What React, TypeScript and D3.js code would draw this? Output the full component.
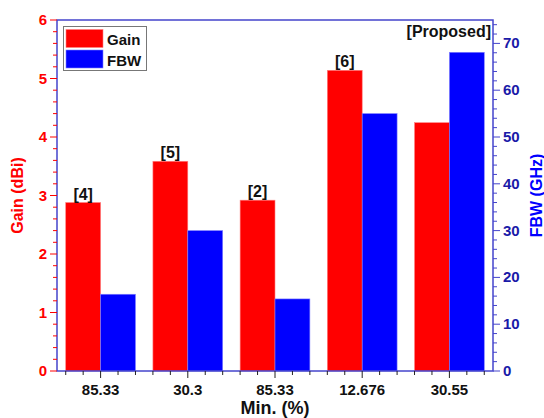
import React from "react";
import * as d3 from "d3";

const categories = ["85.33", "30.3", "85.33", "12.676", "30.55"];
const refs = ["[4]", "[5]", "[2]", "[6]", ""];
const gainValues = [2.88, 3.585, 2.92, 5.14, 4.245];
const fbwValues = [16.4, 30.0, 15.4, 55.0, 68.1];
const gainTicks = [0, 1, 2, 3, 4, 5, 6];
const fbwTicks = [0, 10, 20, 30, 40, 50, 60, 70];

const W = 544;
const H = 418;
const m = { left: 57, right: 51, top: 20, bottom: 47 };
const FONT = "'Liberation Sans', Arial, sans-serif";
const RED = "#ff0000";
const BLUE = "#0000ff";
const FRAME = "#4444cc";

export default function App() {
  const x0 = m.left;
  const x1 = W - m.right;
  const y0 = H - m.bottom;
  const y1 = m.top;

  const x = d3.scaleLinear().domain([-0.5, categories.length - 0.5]).range([x0, x1]);
  const yGain = d3.scaleLinear().domain([0, 6]).range([y0, y1]);
  const yFbw = d3.scaleLinear().domain([0, 75]).range([y0, y1]);
  const bw = (x(1) - x(0)) * 0.4;

  const gainMinor = d3.range(0, 6.0001, 0.2);
  const fbwMinor = d3.range(0, 75.0001, 2);
  const xMinor = d3.range(-0.4, categories.length - 0.5, 0.2);

  return (
    <svg width={W} height={H} style={{ position: "absolute", left: 0, top: 0 }} fontFamily={FONT}>
      <rect width={W} height={H} fill="#fff" />

      {/* bars */}
      {categories.map((_, i) => (
        <g key={i}>
          <rect x={x(i) - bw} y={yGain(gainValues[i])} width={bw} height={y0 - yGain(gainValues[i])}
            fill={RED} stroke="#ff8080" strokeWidth={0.6} />
          <rect x={x(i)} y={yFbw(fbwValues[i])} width={bw} height={y0 - yFbw(fbwValues[i])}
            fill={BLUE} stroke="#8080ff" strokeWidth={0.6} />
          {refs[i] && (
            <text x={x(i) - bw / 2} y={yGain(gainValues[i]) - 3} textAnchor="middle"
              fontSize={16} fontWeight="bold" fill="#111">{refs[i]}</text>
          )}
        </g>
      ))}
      <text x={x1 - 2} y={37} textAnchor="end" fontSize={16} fontWeight="bold" fill="#111">[Proposed]</text>

      {/* frame */}
      <rect x={x0} y={y1} width={x1 - x0} height={y0 - y1} fill="none" stroke={FRAME} strokeWidth={1.5} />

      {/* left axis (Gain) */}
      {gainMinor.map((v, i) => {
        const major = Math.abs(v - Math.round(v)) < 1e-6;
        return (
          <line key={i} x1={x0} x2={x0 - (major ? 7 : 4)} y1={yGain(v)} y2={yGain(v)} stroke={RED} strokeWidth={1} />
        );
      })}
      {gainTicks.map((v) => (
        <text key={v} x={x0 - 10} y={yGain(v) + 5} textAnchor="end" fontSize={15} fontWeight="bold" fill={RED}>{v}</text>
      ))}
      <text transform={`translate(23,${(y0 + y1) / 2}) rotate(-90)`} textAnchor="middle" fontSize={16}
        fontWeight="bold" fill={RED}>Gain (dBi)</text>

      {/* right axis (FBW) */}
      {fbwMinor.map((v, i) => {
        const major = v % 10 === 0;
        return (
          <line key={i} x1={x1} x2={x1 + (major ? 7 : 4)} y1={yFbw(v)} y2={yFbw(v)} stroke={FRAME} strokeWidth={1} />
        );
      })}
      {fbwTicks.map((v) => (
        <text key={v} x={x1 + 10} y={yFbw(v) + 5} textAnchor="start" fontSize={15} fontWeight="bold" fill="#1a1aa8">{v}</text>
      ))}
      <text transform={`translate(542,${(y0 + y1) / 2}) rotate(-90)`} textAnchor="middle" fontSize={16}
        fontWeight="bold" fill={BLUE}>FBW (GHz)</text>

      {/* bottom axis */}
      {xMinor.map((v, i) => {
        const major = Math.abs(v - Math.round(v)) < 1e-6;
        return (
          <line key={i} x1={x(v)} x2={x(v)} y1={y0} y2={y0 + (major ? 7 : 4)} stroke="#222" strokeWidth={1} />
        );
      })}
      {categories.map((c, i) => (
        <text key={i} x={x(i)} y={y0 + 24} textAnchor="middle" fontSize={15} fontWeight="bold" fill="#111">{c}</text>
      ))}
      <text x={(x0 + x1) / 2} y={414} textAnchor="middle" fontSize={18} fontWeight="bold" fill="#111">Min. (%)</text>

      {/* legend */}
      <rect x={63.5} y={26.5} width={83} height={44} fill="#fff" stroke="#777" strokeWidth={1} />
      <rect x={66} y={29.5} width={37} height={18} fill={RED} stroke="#ff8080" strokeWidth={0.6} />
      <rect x={66} y={50} width={37} height={18} fill={BLUE} stroke="#8080ff" strokeWidth={0.6} />
      <text x={107} y={45} fontSize={15} fontWeight="bold" fill="#111">Gain</text>
      <text x={107} y={66} fontSize={15} fontWeight="bold" fill="#111">FBW</text>
    </svg>
  );
}
